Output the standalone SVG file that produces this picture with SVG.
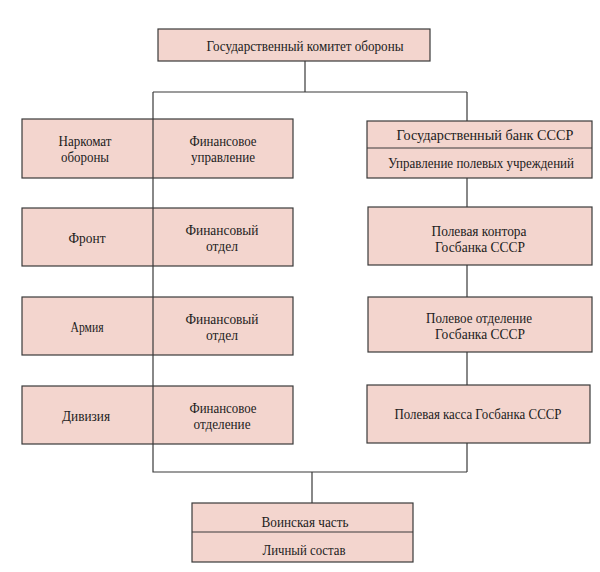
<svg xmlns="http://www.w3.org/2000/svg" width="600" height="572" viewBox="0 0 600 572">
<style>
.box{fill:#f3d5ce;stroke:#3a3a3a;stroke-width:1.2}
.ln{stroke:#3a3a3a;stroke-width:1.2;fill:none}
text{font-family:"Liberation Serif","DejaVu Serif",serif;font-size:15px;fill:#1c1c1c;text-anchor:middle}
</style>
<rect width="600" height="572" fill="#fff"/>
<g id="gko"><rect class="box" x="158" y="29" width="272" height="32"/><text x="305" y="51" textLength="197" lengthAdjust="spacingAndGlyphs">Государственный комитет обороны</text></g>
<g id="narkomat"><rect class="box" x="22" y="119" width="271" height="59"/><text x="85" y="146" textLength="53" lengthAdjust="spacingAndGlyphs">Наркомат</text><text x="85" y="162" textLength="48" lengthAdjust="spacingAndGlyphs">обороны</text><text x="223" y="146" textLength="67" lengthAdjust="spacingAndGlyphs">Финансовое</text><text x="223" y="162" textLength="64" lengthAdjust="spacingAndGlyphs">управление</text></g>
<g id="front"><rect class="box" x="22" y="208" width="271" height="58"/><text x="87" y="243" textLength="37" lengthAdjust="spacingAndGlyphs">Фронт</text><text x="222" y="235" textLength="73" lengthAdjust="spacingAndGlyphs">Финансовый</text><text x="222" y="251" textLength="32" lengthAdjust="spacingAndGlyphs">отдел</text></g>
<g id="army"><rect class="box" x="22" y="297" width="271" height="58"/><text x="87" y="332" textLength="33" lengthAdjust="spacingAndGlyphs">Армия</text><text x="222" y="324" textLength="73" lengthAdjust="spacingAndGlyphs">Финансовый</text><text x="222" y="340" textLength="32" lengthAdjust="spacingAndGlyphs">отдел</text></g>
<g id="division"><rect class="box" x="22" y="386" width="271" height="58"/><text x="86" y="421" textLength="48" lengthAdjust="spacingAndGlyphs">Дивизия</text><text x="223" y="413" textLength="67" lengthAdjust="spacingAndGlyphs">Финансовое</text><text x="222" y="429" textLength="57" lengthAdjust="spacingAndGlyphs">отделение</text></g>
<g id="gosbank"><rect class="box" x="367" y="121" width="225" height="57"/><line class="ln" x1="367" y1="148" x2="592" y2="148"/><text x="485" y="140" textLength="177" lengthAdjust="spacingAndGlyphs">Государственный банк СССР</text><text x="481" y="168" font-size="14" textLength="186" lengthAdjust="spacingAndGlyphs">Управление полевых учреждений</text></g>
<g id="kontora"><rect class="box" x="368" y="207" width="224" height="58"/><text x="479" y="236" textLength="95" lengthAdjust="spacingAndGlyphs">Полевая контора</text><text x="480" y="252" textLength="90" lengthAdjust="spacingAndGlyphs">Госбанка СССР</text></g>
<g id="otdelenie"><rect class="box" x="368" y="297" width="224" height="55"/><text x="479" y="323" textLength="106" lengthAdjust="spacingAndGlyphs">Полевое отделение</text><text x="480" y="339" textLength="90" lengthAdjust="spacingAndGlyphs">Госбанка СССР</text></g>
<g id="kassa"><rect class="box" x="367" y="385" width="223" height="58"/><text x="478" y="419" textLength="167" lengthAdjust="spacingAndGlyphs">Полевая касса Госбанка СССР</text></g>
<g id="chast"><rect class="box" x="192" y="503" width="221" height="59"/><line class="ln" x1="192" y1="532" x2="413" y2="532"/><text x="305" y="527" textLength="87" lengthAdjust="spacingAndGlyphs">Воинская часть</text><text x="304" y="555" textLength="83" lengthAdjust="spacingAndGlyphs">Личный состав</text></g>
<g id="connectors">
<path class="ln" d="M305 61V92M153 92H467M153 92V472H467M312 472V503"/>
<path class="ln" d="M467 92V121M467 178V207M467 265V297M467 352V385M467 443V472"/>
</g>
</svg>
